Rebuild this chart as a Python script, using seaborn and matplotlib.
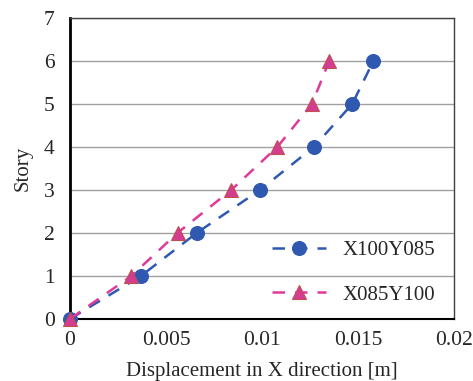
import pandas as pd
import matplotlib.pyplot as plt
import seaborn as sns

story = [0, 1, 2, 3, 4, 5, 6]
disp_x100y085 = [0.0, 0.0037, 0.0066, 0.0099, 0.0127, 0.0147, 0.0158]
disp_x085y100 = [0.0, 0.0032, 0.0056, 0.0084, 0.0108, 0.0126, 0.0135]
series_names = ['X100Y085', 'X085Y100']

df = pd.concat([
    pd.DataFrame({'disp': disp_x100y085, 'story': story, 'case': series_names[0]}),
    pd.DataFrame({'disp': disp_x085y100, 'story': story, 'case': series_names[1]}),
])

sns.set_style('white')
plt.rcParams['font.family'] = ['Liberation Serif', 'DejaVu Serif']

fig = plt.figure(figsize=(4.73, 3.81), dpi=100)
ax = fig.add_axes([0.148, 0.163, 0.812, 0.790])

palette = {'X100Y085': '#2F59B0', 'X085Y100': '#E0399A'}
styles = [('o', '#2F59B0', '#2F59B0'), ('^', '#D43C92', '#C0504D')]
for name, (mk, fc, ec) in zip(series_names, styles):
    sub = df[df['case'] == name]
    sns.lineplot(data=sub, x='disp', y='story', ax=ax, sort=False, estimator=None,
                 color=palette[name], linestyle=(0, (5, 4)), linewidth=1.8,
                 marker=mk, markersize=10, markerfacecolor=fc, markeredgecolor=ec,
                 markeredgewidth=0.8, label=name, clip_on=False, zorder=3)

ax.set_xlim(0, 0.02)
ax.set_ylim(0, 7)
ax.set_xticks([0, 0.005, 0.01, 0.015, 0.02])
ax.set_xticklabels(['0', '0.005', '0.01', '0.015', '0.02'])
ax.set_yticks(range(8))
ax.yaxis.grid(True, color='#A0A0A0', linewidth=1.0)
ax.set_axisbelow(True)
ax.tick_params(labelsize=15.5, length=0)
ax.tick_params(axis='y', pad=11)
ax.tick_params(axis='x', pad=9)
ax.set_xlabel('Displacement in X direction [m]', fontsize=15, labelpad=8)
ax.set_ylabel('Story', fontsize=15, labelpad=8)

for s in ['top', 'right']:
    ax.spines[s].set_color('#404040')
    ax.spines[s].set_linewidth(1.0)
ax.spines['left'].set_color('black')
ax.spines['left'].set_linewidth(2.0)
ax.spines['bottom'].set_color('black')
ax.spines['bottom'].set_linewidth(1.5)

ax.legend(loc='lower right', frameon=False, fontsize=15, labelspacing=1.2,
          handlelength=2.6, bbox_to_anchor=(1.0, -0.015))

fig.savefig('out.png', dpi=100)
